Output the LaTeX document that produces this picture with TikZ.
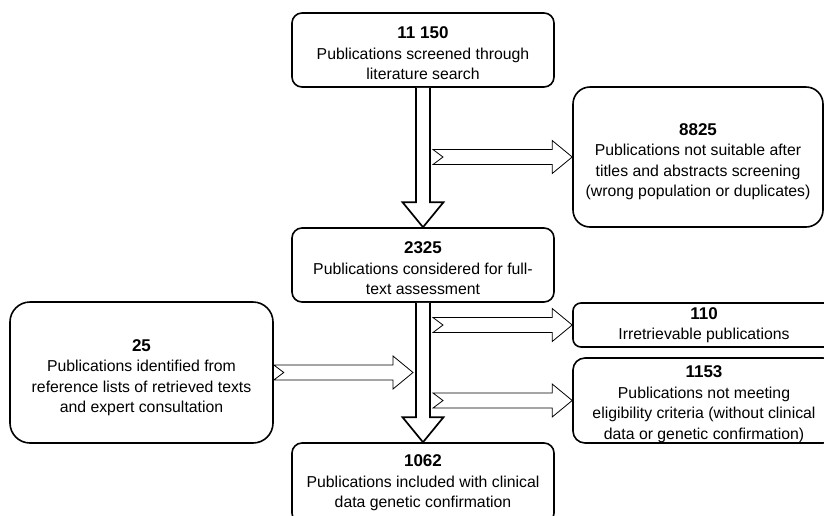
\documentclass[tikz,border=0pt]{standalone}
\usepackage{fontspec}
\setmainfont{Liberation Sans}
\usetikzlibrary{calc}
\tikzset{
  box/.style={draw=black, line width=1.6pt, align=center, inner sep=0pt,
    font=\fontsize{15.8}{20.5}\selectfont},
  harr/.style={draw=black, line width=0.8pt, fill=white, line join=miter},
  varr/.style={draw=black, line width=1.7pt, fill=white, line join=miter},
}
\newcommand{\tp}[1]{\rule{0pt}{#1}}
\newcommand{\bnum}[1]{{\fontsize{17}{20.5}\selectfont\bfseries #1}}
\newcommand{\myRarrow}[2]{%
  \draw[harr] let \p1=(#1), \p2=(#2) in
    (\x1,\y2+7.5pt) -- (\x2-20pt,\y2+7.5pt) -- (\x2-20pt,\y2+16.5pt) -- (\x2,\y2)
    -- (\x2-20pt,\y2-16.5pt) -- (\x2-20pt,\y2-7.5pt) -- (\x1,\y2-7.5pt)
    -- (\x1+10pt,\y2) -- cycle;}
\newcommand{\myDarrow}[2]{%
  \draw[varr] let \p1=(#1), \p2=(#2) in
    (\x1-7pt,\y1) -- (\x1-7pt,\y2+25pt) -- (\x1-20.5pt,\y2+25pt) -- (\x1,\y2)
    -- (\x1+20.5pt,\y2+25pt) -- (\x1+7pt,\y2+25pt) -- (\x1+7pt,\y1);}
\begin{document}
\begin{tikzpicture}[x=1pt,y=-1pt]
\clip (0,0) rectangle (824,515);
\fill[white] (0,0) rectangle (824,515);

\node[box, rounded corners=10pt, minimum width=262pt, minimum height=74pt] (A) at (423,50)
  {\tp{18.5pt}\bnum{11 150}\\Publications screened through\\literature search};
\node[box, rounded corners=10pt, minimum width=262pt, minimum height=74pt] (B) at (423,265)
  {\tp{19pt}\bnum{2325}\\Publications considered for full-\\text assessment};
\node[box, rounded corners=17pt, minimum width=250pt, minimum height=140pt] (C) at (698,157)
  {\tp{21.5pt}\bnum{8825}\\Publications not suitable after\\titles and abstracts screening\\(wrong population or duplicates)};
\node[box, rounded corners=10pt, minimum width=262pt, minimum height=80pt] (D) at (423,483)
  {\bnum{1062}\\Publications included with clinical\\data genetic confirmation};
\node[box, rounded corners=20pt, minimum width=263pt, minimum height=141pt] (E) at (141.5,372.5)
  {\tp{22pt}\bnum{25}\\Publications identified from\\reference lists of retrieved texts\\and expert consultation};
\node[box, rounded corners=8pt, minimum width=262pt, minimum height=44pt] (F) at (704,325)
  {\bnum{110}\\Irretrievable publications};
\node[box, rounded corners=12pt, minimum width=262pt, minimum height=85pt] (G) at (704,400.5)
  {\tp{19pt}\bnum{1153}\\Publications not meeting\\eligibility criteria (without clinical\\data or genetic confirmation)};

\coordinate (tx) at ($(A.south)+(10,0)$);
\coordinate (bx) at ($(B.south)+(-10,0)$);
\coordinate (Etip) at (bx |- E.east);

\myDarrow{A.south}{B.north}
\myDarrow{B.south}{D.north}
\myRarrow{tx}{C.west}
\myRarrow{tx}{F.west}
\myRarrow{tx}{G.west}
\myRarrow{E.east}{Etip}
\end{tikzpicture}
\end{document}
